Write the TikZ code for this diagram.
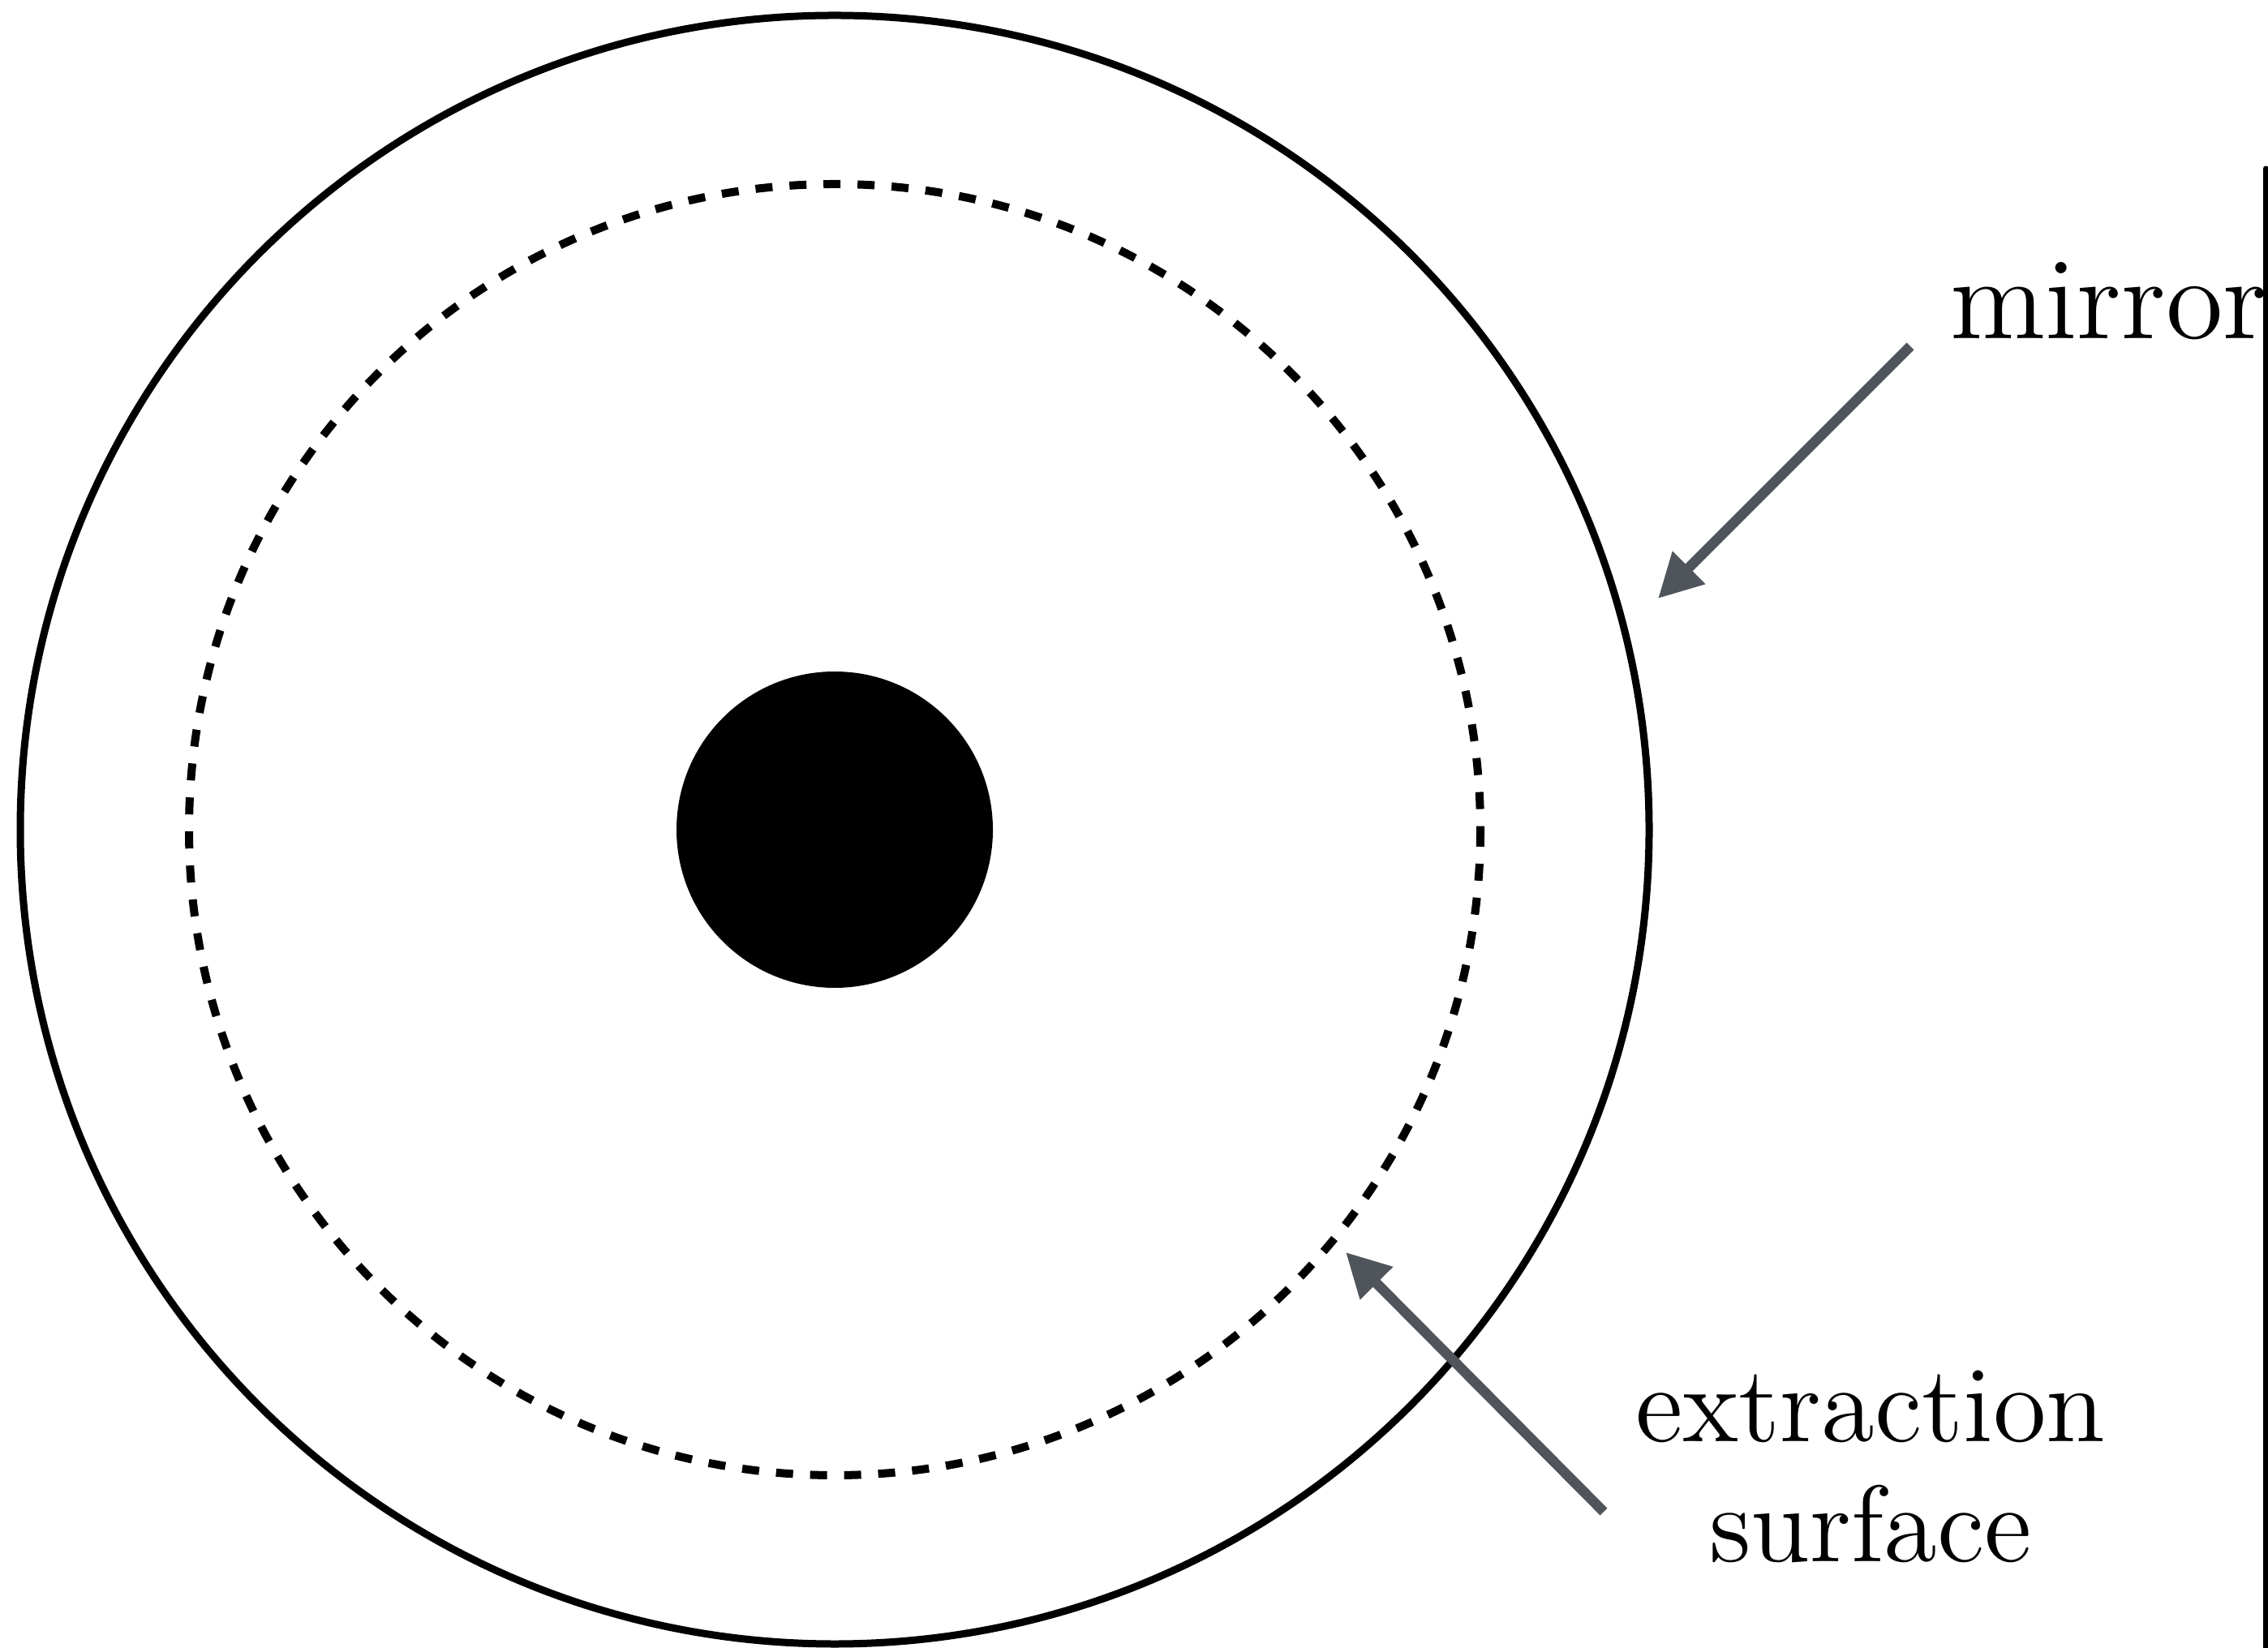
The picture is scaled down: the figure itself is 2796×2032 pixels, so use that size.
\documentclass[tikz,border=0pt]{standalone}
\usepackage{fontspec}
\usepackage{tikz}
\usetikzlibrary{arrows.meta}
\definecolor{pointc}{HTML}{50555C}
\tikzset{
  ar/.style={-{Triangle[length=5.4pt,width=5.4pt]},line width=1.25pt,pointc},
  lbl/.style={inner sep=0pt,font=\fontsize{13.4}{14.8}\selectfont}
}
\begin{document}
\begin{tikzpicture}[x=0.1pt,y=-0.1pt]
\useasboundingbox (0,0) rectangle (2796,2032);
\coordinate (c) at (1029,1023);
% mirror, extraction surface, core
\draw[line width=0.9pt] (c) circle[radius=1004];
\draw[line width=1pt,dash pattern=on 2.1pt off 2.1pt] (c) circle[radius=796];
\fill (c) circle[radius=195];
\node[lbl,anchor=base west,font=\fontsize{14.4}{16}\selectfont] (mirror) at (2402,418) {mirror};
\draw[line width=0.7pt,line cap=round] (2793,208)--(2793,2032);
\node[lbl,anchor=base,align=center] (extr) at (2306,1925) {extraction\\surface};
\coordinate (mtail) at (2355,427);
\coordinate (mtip) at (2044,738);
\coordinate (etail) at (1977,1864);
\coordinate (etip) at (1659,1544);
\draw[ar] (mtail)--(mtip);
\draw[ar] (etail)--(etip);
\end{tikzpicture}
\end{document}
